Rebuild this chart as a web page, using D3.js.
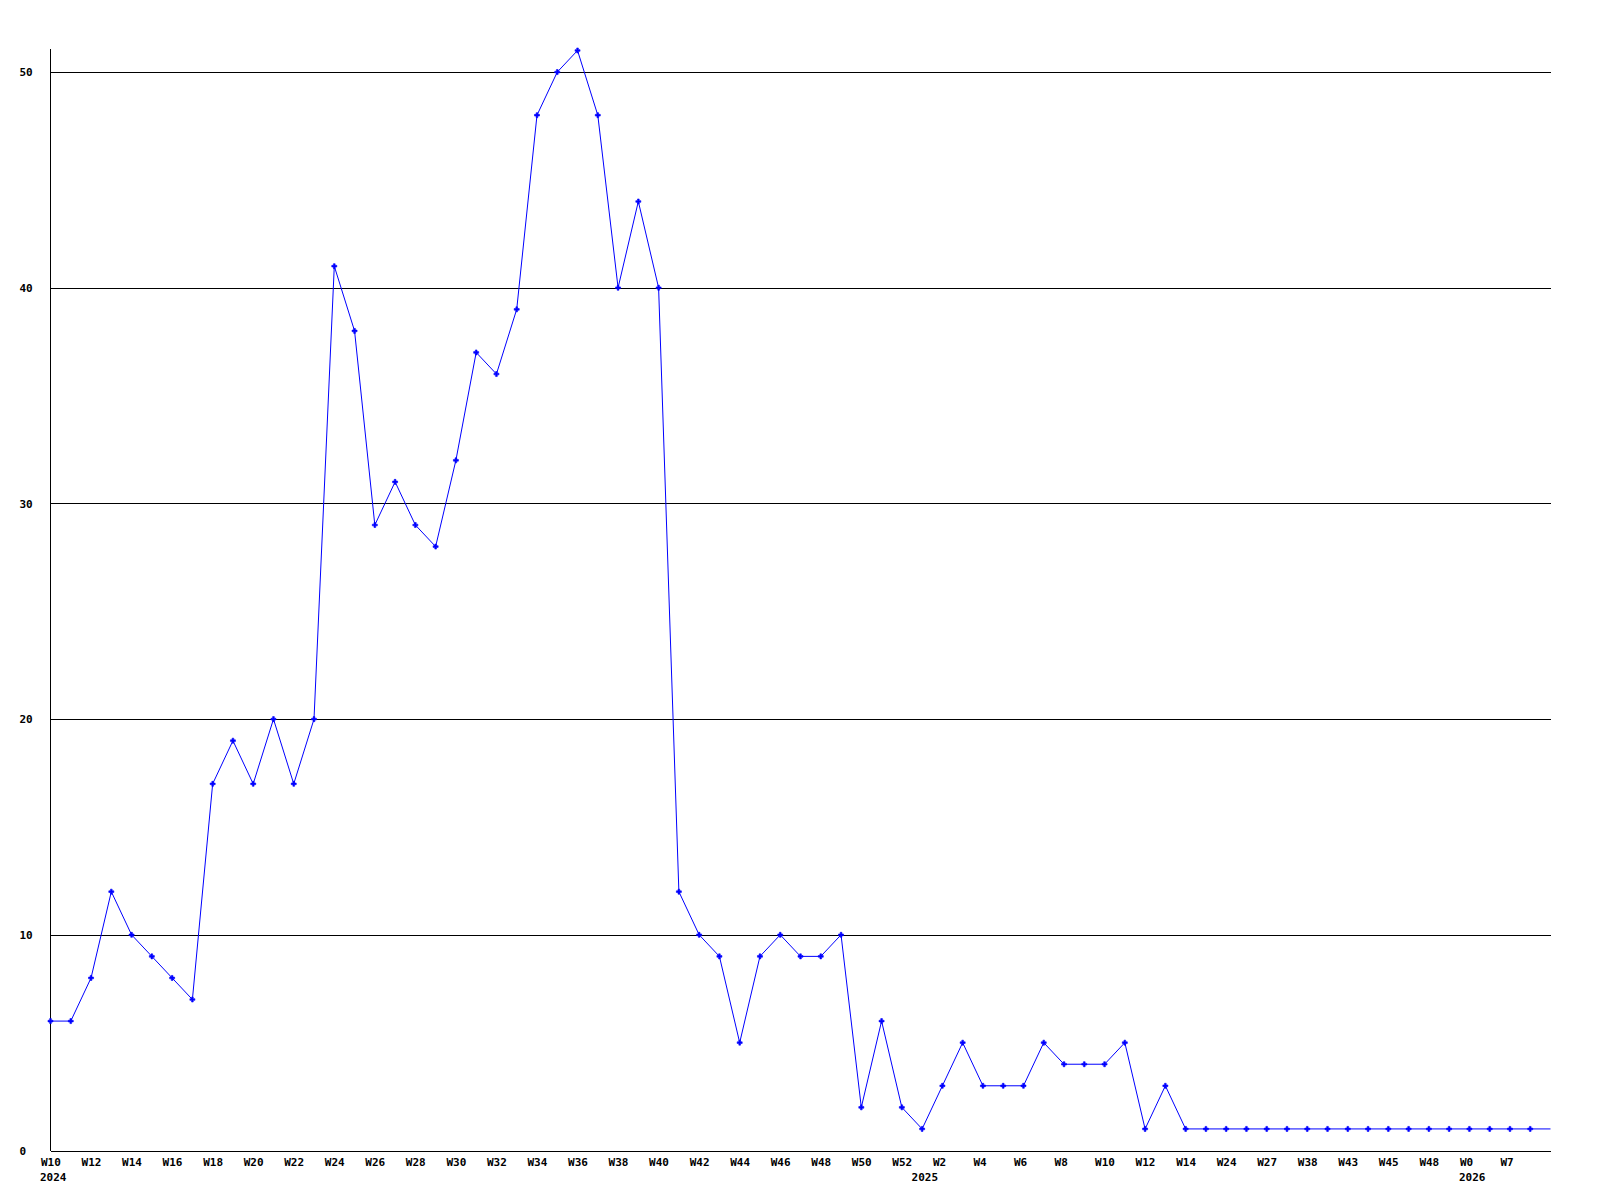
<!DOCTYPE html>
<html>
<head>
<meta charset="utf-8">
<script src="https://cdn.jsdelivr.net/npm/d3@7"></script>
<style>
  html, body { margin: 0; padding: 0; background: #fff; }
  svg { display: block; }
  text { font-family: "DejaVu Sans Mono", "Liberation Mono", monospace; font-weight: bold; font-size: 11px; fill: #000; }
</style>
</head>
<body>
<svg id="chart" width="1600" height="1200"></svg>
<script>
// Week categories (one per data point)
const weeks = [
  "W10","W11","W12","W13","W14","W15","W16","W17","W18","W19",
  "W20","W21","W22","W23","W24","W25","W26","W27","W28","W29",
  "W30","W31","W32","W33","W34","W35","W36","W37","W38","W39",
  "W40","W41","W42","W43","W44","W45","W46","W47","W48","W49",
  "W50","W51","W52","W1","W2","W3","W4","W5","W6","W7",
  "W8","W9","W10","W11","W12","W13","W14","W18","W24","W25",
  "W27","W30","W38","W40","W43","W44","W45","W46","W48","W50",
  "W0","W3","W7","W8","W9"
];
// Values per week
const counts = [
  6,6,8,12,10,9,8,7,17,19,
  17,20,17,20,41,38,29,31,29,28,
  32,37,36,39,48,50,51,48,40,44,
  40,12,10,9,5,9,10,9,9,10,
  2,6,2,1,3,5,3,3,3,5,
  4,4,4,5,1,3,1,1,1,1,
  1,1,1,1,1,1,1,1,1,1,
  1,1,1,1,1
];
// Year labels and the index of the week where each year starts
const years = ["2024","2025","2026"];
const yearStart = [0, 43, 70];
// Y tick values
const yTicks = [0,10,20,30,40,50];

const svg = d3.select("#chart");
const mLeft = 50, mRight = 1550, mTop = 50, mBottom = 1150;

const x = d3.scaleLinear().domain([0, counts.length - 1]).range([mLeft, mRight]);
const y = d3.scaleLinear().domain([0, d3.max(counts)]).range([mBottom, mTop]);

// Gridlines + y labels
const yAxis = svg.append("g")
  .attr("transform", `translate(${mLeft + 0.5},0.5)`)
  .call(d3.axisLeft(y).tickValues(yTicks).tickSizeInner(-(mRight - mLeft)).tickSizeOuter(0).tickPadding(0));
yAxis.select(".domain").remove();
yAxis.selectAll(".tick line").attr("stroke", "#000").attr("stroke-width", 1).attr("shape-rendering", "crispEdges");
yAxis.selectAll(".tick text")
  .attr("x", -31).attr("text-anchor", "start").attr("dy", "0.35em")
  .style("font-family", "DejaVu Sans Mono").style("font-weight", "bold").style("font-size", "11px");

// Y axis line
svg.append("line")
  .attr("x1", mLeft + 0.5).attr("x2", mLeft + 0.5)
  .attr("y1", mTop - 1).attr("y2", mBottom + 0.5)
  .attr("stroke", "#000").attr("shape-rendering", "crispEdges");

// X axis
const tickIdx = d3.range(0, counts.length - 1, 2);
const xAxis = svg.append("g")
  .attr("transform", `translate(0.5,${mBottom + 0.5})`)
  .call(d3.axisBottom(x).tickValues(tickIdx).tickFormat(i => weeks[i]).tickSize(0).tickPadding(0));
xAxis.select(".domain").attr("stroke", "#000").attr("shape-rendering", "crispEdges");
xAxis.selectAll(".tick text")
  .attr("x", -10).attr("y", 12).attr("dy", "0.35em").attr("text-anchor", "start")
  .style("font-family", "DejaVu Sans Mono").style("font-weight", "bold").style("font-size", "11px");

// Year labels
svg.append("g").selectAll("text")
  .data(years)
  .join("text")
  .attr("x", (d, i) => x(yearStart[i]) - 10)
  .attr("y", mBottom + 27)
  .attr("dy", "0.35em")
  .attr("text-anchor", "start")
  .text(d => d);

// Line
const line = d3.line().x((d, i) => x(i) + 0.5).y(d => y(d) + 0.5);
svg.append("path")
  .datum(counts)
  .attr("fill", "none")
  .attr("stroke", "#0000ff")
  .attr("stroke-width", 1)
  .attr("d", line);

// Markers (last point has none)
const sym = d3.symbol().type(d3.symbolCross).size(14);
svg.append("g").selectAll("path")
  .data(counts.slice(0, counts.length - 1))
  .join("path")
  .attr("transform", (d, i) => `translate(${x(i) + 0.5},${y(d) + 0.5})`)
  .attr("d", sym)
  .attr("fill", "#0000ff")
  .attr("stroke", "#0000ff")
  .attr("stroke-width", 0.6);
</script>
</body>
</html>
